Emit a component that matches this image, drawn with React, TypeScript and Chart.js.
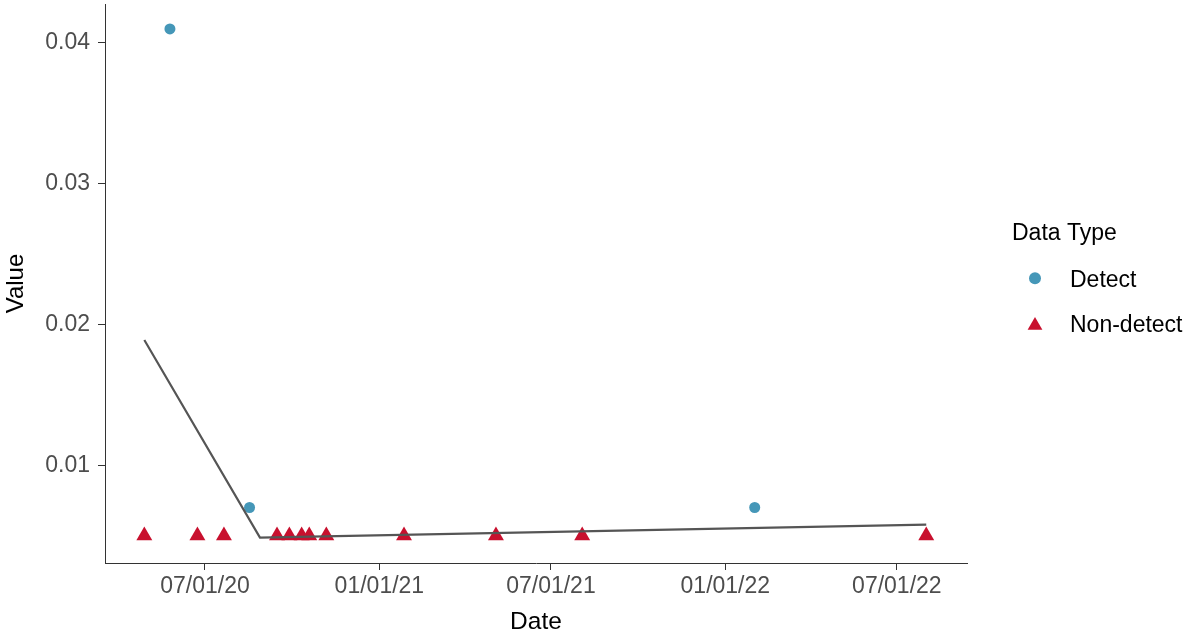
import { useEffect, useRef } from 'react';
import { Chart, registerables } from 'chart.js';

Chart.register(...registerables);

// ---- Data ----
const detectDates = ['2020-05-25', '2020-08-17', '2022-02-01'];
const detectValues = [0.041, 0.007, 0.007];

const nonDetectDates = [
  '2020-04-28', '2020-06-23', '2020-07-21', '2020-09-15', '2020-09-28', '2020-10-11',
  '2020-10-19', '2020-11-06', '2021-01-27', '2021-05-04', '2021-08-03', '2022-08-01',
];
const nonDetectValues = [0.005, 0.005, 0.005, 0.005, 0.005, 0.005, 0.005, 0.005, 0.005, 0.005, 0.005, 0.005];

const trendDates = ['2020-04-28', '2020-08-28', '2022-08-01'];
const trendValues = [0.0189, 0.00486, 0.00579];

const xTickDates = ['2020-07-01', '2021-01-01', '2021-07-01', '2022-01-01', '2022-07-01'];
const xTickLabels = ['07/01/20', '01/01/21', '07/01/21', '01/01/22', '07/01/22'];

const yTickValues = [0.01, 0.02, 0.03, 0.04];
const yTickLabels = ['0.01', '0.02', '0.03', '0.04'];

const legendTitle = 'Data Type';
const legendLabels = ['Detect', 'Non-detect'];

// ---- Styling ----
const FONT = '"Liberation Sans", Arial, Helvetica, sans-serif';
const DETECT_COLOR = '#4597b8';
const NONDETECT_COLOR = '#c8102e';
const AXIS_COLOR = '#333333';
const TICK_TEXT = '#4d4d4d';

const toMs = (d: string) => Date.parse(d + 'T00:00:00Z');
const X_MIN = Date.UTC(2020, 2, 17, 12);
const X_MAX = Date.UTC(2022, 8, 13);
const Y_MIN = 0.003057;
const Y_MAX = 0.04277;

// fixed plot rectangle (pixels)
const PLOT = { left: 105, right: 967, top: 4, bottom: 563 };

export default function App() {
  const ref = useRef<HTMLCanvasElement>(null);

  useEffect(() => {
    if (!ref.current) return;
    const xTickMs = xTickDates.map(toMs);

    const legendPlugin = {
      id: 'ggLegend',
      afterDraw(chart: any) {
        const ctx = chart.ctx as CanvasRenderingContext2D;
        ctx.save();
        ctx.textAlign = 'left';
        ctx.textBaseline = 'alphabetic';
        ctx.fillStyle = '#000000';
        ctx.font = `23px ${FONT}`;
        ctx.fillText(legendTitle, 1012, 240);

        // Detect: circle
        ctx.fillStyle = DETECT_COLOR;
        ctx.beginPath();
        ctx.arc(1035, 278.3, 6, 0, Math.PI * 2);
        ctx.fill();
        ctx.fillStyle = '#000000';
        ctx.fillText(legendLabels[0], 1070, 286.6);

        // Non-detect: triangle
        const r = 8.5;
        const cx = 1035;
        const cy = 325.5;
        ctx.fillStyle = NONDETECT_COLOR;
        ctx.beginPath();
        ctx.moveTo(cx, cy - r);
        ctx.lineTo(cx + (Math.sqrt(3) / 2) * r, cy + r / 2);
        ctx.lineTo(cx - (Math.sqrt(3) / 2) * r, cy + r / 2);
        ctx.closePath();
        ctx.fill();
        ctx.fillStyle = '#000000';
        ctx.fillText(legendLabels[1], 1070, 331.7);
        ctx.restore();
      },
    };

    const chart = new Chart(ref.current, {
      type: 'scatter',
      data: {
        datasets: [
          {
            type: 'line',
            label: 'Trend',
            data: trendDates.map((d, i) => ({ x: toMs(d), y: trendValues[i] })),
            borderColor: '#555555',
            borderWidth: 2.2,
            pointRadius: 0,
            fill: false,
            tension: 0,
            order: 0,
          } as any,
          {
            label: legendLabels[0],
            data: detectDates.map((d, i) => ({ x: toMs(d), y: detectValues[i] })),
            pointStyle: 'circle',
            pointRadius: 5.5,
            backgroundColor: DETECT_COLOR,
            borderColor: DETECT_COLOR,
            borderWidth: 0,
            order: 1,
          },
          {
            label: legendLabels[1],
            data: nonDetectDates.map((d, i) => ({ x: toMs(d), y: nonDetectValues[i] })),
            pointStyle: 'triangle',
            pointRadius: 9.2,
            backgroundColor: NONDETECT_COLOR,
            borderColor: NONDETECT_COLOR,
            borderWidth: 0,
            order: 2,
          },
        ],
      },
      options: {
        animation: false,
        responsive: false,
        devicePixelRatio: 1,
        layout: { padding: { left: 0, right: 1190 - PLOT.right, top: PLOT.top, bottom: 0 } },
        plugins: {
          legend: { display: false },
          tooltip: { enabled: false },
        },
        scales: {
          x: {
            type: 'linear',
            min: X_MIN,
            max: X_MAX,
            afterFit: (s: any) => {
              s.height = 638 - PLOT.bottom;
              s.paddingLeft = 0;
              s.paddingRight = 0;
              s.paddingTop = 0;
              s.paddingBottom = 0;
            },
            afterBuildTicks: (s: any) => {
              s.ticks = xTickMs.map((v) => ({ value: v }));
            },
            ticks: {
              autoSkip: false,
              maxRotation: 0,
              minRotation: 0,
              color: TICK_TEXT,
              font: { family: FONT, size: 23 },
              padding: 2.5,
              callback: (v: any) => {
                const i = xTickMs.indexOf(Number(v));
                return i >= 0 ? xTickLabels[i] : '';
              },
            },
            grid: {
              display: true,
              drawOnChartArea: false,
              drawTicks: true,
              tickLength: 7,
              color: AXIS_COLOR,
              tickColor: AXIS_COLOR,
              tickWidth: 1,
            },
            border: { display: true, color: AXIS_COLOR, width: 1 },
            title: {
              display: true,
              text: 'Date',
              color: '#000000',
              font: { family: FONT, size: 24.5 },
              padding: { top: 0, bottom: 1.3 },
            },
          },
          y: {
            type: 'linear',
            min: Y_MIN,
            max: Y_MAX,
            afterFit: (s: any) => {
              s.width = PLOT.left;
              s.paddingTop = 0;
              s.paddingBottom = 0;
              s.paddingLeft = 0;
              s.paddingRight = 0;
            },
            afterBuildTicks: (s: any) => {
              s.ticks = yTickValues.map((v) => ({ value: v }));
            },
            ticks: {
              autoSkip: false,
              color: TICK_TEXT,
              font: { family: FONT, size: 23 },
              padding: 8,
              callback: (v: any) => {
                const i = yTickValues.findIndex((t) => Math.abs(t - Number(v)) < 1e-9);
                return i >= 0 ? yTickLabels[i] : '';
              },
            },
            grid: {
              display: true,
              drawOnChartArea: false,
              drawTicks: true,
              tickLength: 7,
              color: AXIS_COLOR,
              tickColor: AXIS_COLOR,
              tickWidth: 1,
            },
            border: { display: true, color: AXIS_COLOR, width: 1 },
            title: {
              display: true,
              text: 'Value',
              color: '#000000',
              font: { family: FONT, size: 24 },
              padding: { top: 1.6, bottom: 0 },
            },
          },
        },
      } as any,
      plugins: [
        legendPlugin,
        {
          id: 'fixArea',
          afterLayout(c: any) {
            // pin the plotting rectangle to the reference geometry
            const ys = c.scales.y;
            const xs = c.scales.x;
            c.chartArea.top = PLOT.top;
            c.chartArea.bottom = PLOT.bottom;
            c.chartArea.left = PLOT.left;
            c.chartArea.right = PLOT.right;
            c.chartArea.width = PLOT.right - PLOT.left;
            c.chartArea.height = PLOT.bottom - PLOT.top;
            ys.top = PLOT.top;
            ys.bottom = PLOT.bottom;
            ys.height = PLOT.bottom - PLOT.top;
            ys.configure();
            xs.left = PLOT.left;
            xs.right = PLOT.right;
            xs.width = PLOT.right - PLOT.left;
            xs.configure();
          },
        },
      ],
    });

    return () => chart.destroy();
  }, []);

  return (
    <div style={{ position: 'fixed', left: 0, top: 0, width: 1190, height: 638, background: '#ffffff' }}>
      <canvas ref={ref} width={1190} height={638} style={{ width: 1190, height: 638, display: 'block' }} />
    </div>
  );
}
